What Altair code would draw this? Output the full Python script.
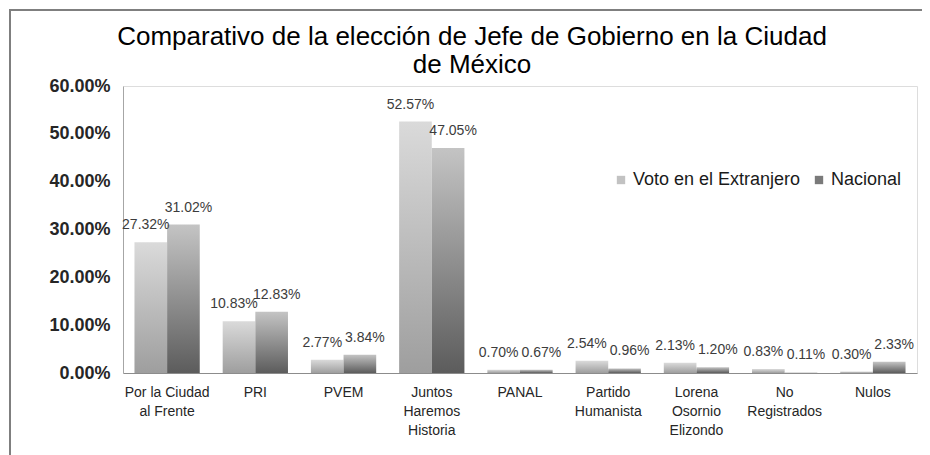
import altair as alt
import pandas as pd

categorias = [
    "Por la Ciudad\nal Frente",
    "PRI",
    "PVEM",
    "Juntos\nHaremos\nHistoria",
    "PANAL",
    "Partido\nHumanista",
    "Lorena\nOsornio\nElizondo",
    "No\nRegistrados",
    "Nulos",
]
extranjero = [27.32, 10.83, 2.77, 52.57, 0.70, 2.54, 2.13, 0.83, 0.30]
nacional = [31.02, 12.83, 3.84, 47.05, 0.67, 0.96, 1.20, 0.11, 2.33]
series = ["Voto en el Extranjero", "Nacional"]
y_ticks = [0, 0.1, 0.2, 0.3, 0.4, 0.5, 0.6]

df = pd.DataFrame({
    "categoria": categorias * 2,
    "serie": [series[0]] * len(categorias) + [series[1]] * len(categorias),
    "valor": [v / 100 for v in extranjero + nacional],
})

FONT = "Liberation Sans"

grad_light = {
    "gradient": "linear", "x1": 0, "y1": 0, "x2": 0, "y2": 1,
    "stops": [{"offset": 0, "color": "#dadada"}, {"offset": 1, "color": "#9e9e9e"}],
}
grad_dark = {
    "gradient": "linear", "x1": 0, "y1": 0, "x2": 0, "y2": 1,
    "stops": [{"offset": 0, "color": "#c4c4c4"}, {"offset": 1, "color": "#5c5c5c"}],
}

x = alt.X(
    "categoria:N", sort=categorias,
    scale=alt.Scale(paddingInner=0.26, paddingOuter=0.13),
    axis=alt.Axis(
        title=None, labelAngle=0, labelExpr="split(datum.label, '\\n')",
        ticks=False, domainColor="#8c8c8c", labelFontSize=14, labelColor="#262626",
        labelPadding=12, labelLineHeight=19, labelFont=FONT,
    ),
)
xoff = alt.XOffset("serie:N", sort=series,
                   scale=alt.Scale(domain=series, paddingInner=0, paddingOuter=0))
y = alt.Y(
    "valor:Q", scale=alt.Scale(domain=[0, 0.6], nice=False),
    axis=alt.Axis(
        title=None, format=".2%", values=y_ticks, grid=False, ticks=False,
        labelFontSize=18, labelFontWeight="bold", labelColor="#262626",
        labelPadding=13, domainColor="#a6a6a6", labelFont=FONT,
    ),
)

base = alt.Chart(df).encode(x=x, xOffset=xoff, y=y)

bars_ext = base.transform_filter(alt.datum.serie == series[0]).mark_bar(color=grad_light)
bars_nac = base.transform_filter(alt.datum.serie == series[1]).mark_bar(color=grad_dark)

txt_ext = base.transform_filter(alt.datum.serie == series[0]).mark_text(
    baseline="alphabetic", dy=-13, dx=-5, fontSize=14, color="#3c3c3c", font=FONT
).encode(text=alt.Text("valor:Q", format=".2%"))
txt_nac = base.transform_filter(alt.datum.serie == series[1]).mark_text(
    baseline="alphabetic", dy=-13, dx=5, fontSize=14, color="#3c3c3c", font=FONT
).encode(text=alt.Text("valor:Q", format=".2%"))

legend_layer = alt.Chart(df).mark_square(opacity=0).encode(
    x=x, y=y,
    color=alt.Color(
        "serie:N", sort=series,
        scale=alt.Scale(domain=series, range=["#c2c2c2", "#7a7a7a"]),
        legend=alt.Legend(
            title=None, orient="none", legendX=489, legendY=85, direction="horizontal",
            symbolType="square", symbolSize=70, symbolOpacity=1, symbolStrokeWidth=0,
            labelFontSize=18, labelColor="#1a1a1a", labelFont=FONT, labelLimit=300,
            labelOffset=3, columnPadding=9, padding=0,
        ),
    ),
)

frame = alt.Chart(pd.DataFrame({"k": [0]}))
frame_left = frame.mark_rule(color="#7f7f7f", strokeWidth=2).encode(
    x=alt.value(-113), y=alt.value(-76), y2=alt.value(380))
frame_top = frame.mark_rule(color="#7f7f7f", strokeWidth=2).encode(
    x=alt.value(-114), x2=alt.value(820), y=alt.value(-76))

chart = alt.layer(
    bars_ext, bars_nac, txt_ext, txt_nac, legend_layer, frame_left, frame_top
).properties(
    width=794, height=287,
    autosize=alt.AutoSizeParams(type="none"),
    padding={"left": 115, "top": 78, "right": 5, "bottom": 82},
    title=alt.TitleParams(
        text=["Comparativo de la elección de Jefe de Gobierno en  la Ciudad", "de México"],
        fontSize=26, fontWeight="normal", color="#000000", anchor="middle",
        dx=-48, dy=77, offset=8, lineHeight=28, font=FONT,
    ),
).configure_view(stroke=None).configure(font=FONT)

chart.save("out.html", embed_options={"renderer": "svg", "actions": False})
